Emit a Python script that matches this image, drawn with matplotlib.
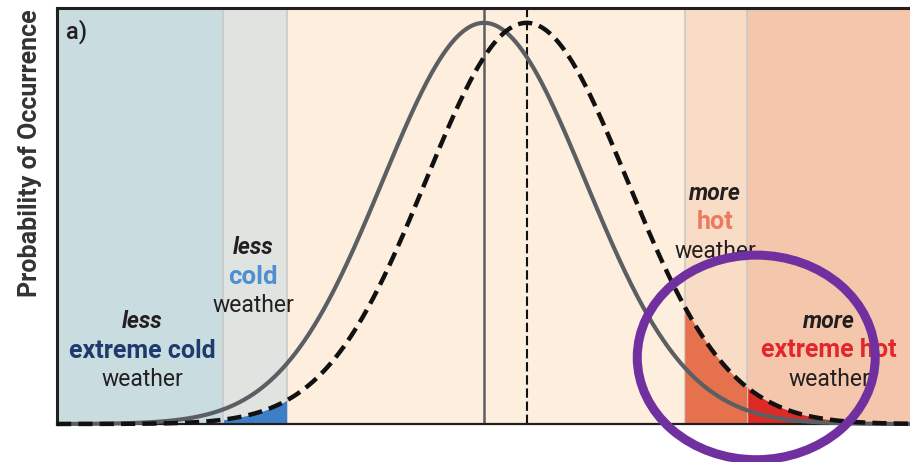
import numpy as np
import matplotlib
matplotlib.use("Agg")
import matplotlib.pyplot as plt
from matplotlib.patches import Ellipse

# ---- data (x in units of the present-climate spread) ----
present_mean = 0.0
future_mean = 0.41
present_sd = 0.975
future_sd = 0.97
region_edges = [-4.11, -2.51, -1.90, 1.93, 2.53, 4.10]
region_colors = ["#c9dde1", "#dfe4e1", "#fdeedd", "#f9dcc5", "#f4c7ad"]
tail_fills = [(-2.51, -1.90, "#3c7fc7"), (1.93, 2.53, "#e6714d"), (2.53, 4.10, "#dd2a24")]
panel_label = "a)"
ylabel = "Probability of Occurrence"
highlight_center = (2.62, 0.166)
highlight_size = (2.29, 0.51)

x = np.linspace(region_edges[0], region_edges[-1], 800)
present = np.exp(-0.5 * ((x - present_mean) / present_sd) ** 2)
future = np.exp(-0.5 * ((x - future_mean) / future_sd) ** 2)

plt.rcParams["font.family"] = ["Roboto", "DejaVu Sans"]

fig = plt.figure(figsize=(9.10, 4.62), dpi=100)
ax = fig.add_axes([57 / 910, 38 / 462, 853 / 910, 416 / 462])
ax.set_xlim(region_edges[0], region_edges[-1])
ax.set_ylim(0, 1.037)

# background bands
for (a, b), c in zip(zip(region_edges[:-1], region_edges[1:]), region_colors):
    ax.axvspan(a, b, color=c, lw=0, zorder=0)
for e in region_edges[1:-1]:
    ax.axvline(e, color="#c8c6c2", lw=1.1, zorder=0.5)

# tail fills under the shifted distribution
for a, b, c in tail_fills:
    m = (x >= a) & (x <= b)
    ax.fill_between(x[m], 0, future[m], color=c, lw=0, zorder=1)

# mean lines
ax.axvline(present_mean, color="#5b5f63", lw=1.8, zorder=2)
ax.axvline(future_mean, color="#111111", lw=1.5, ls=(0, (4.5, 1.8)), zorder=2)

# distributions
ax.plot(x, present, color="#5b5f63", lw=3.0, solid_capstyle="butt", zorder=4, clip_on=False)
ax.plot(x, future, color="#111111", lw=3.2, ls=(0, (3.2, 1.6)), dash_capstyle="butt",
        zorder=5, clip_on=False)

# spines
for s in ["left", "top"]:
    ax.spines[s].set_linewidth(2.2)
    ax.spines[s].set_color("#231f20")
ax.spines["bottom"].set_linewidth(1.6)
ax.spines["bottom"].set_color("#231f20")
ax.spines["right"].set_visible(False)
ax.set_xticks([])
ax.set_yticks([])

dark = "#231f20"


def px(xp, yp):
    return ((xp - 57) / 853, (424 - yp) / 416)


def block(xc, ys, lines):
    for yp, (txt, col, wt, st, fs) in zip(ys, lines):
        ax.text(*px(xc, yp), txt, transform=ax.transAxes, ha="center", va="center",
                fontsize=fs, color=col, fontweight=wt, fontstyle=st, zorder=6)


block(142, [322, 351, 380], [("less", dark, "bold", "italic", 16.5),
                             ("extreme cold", "#1f3b6e", "bold", "normal", 18),
                             ("weather", dark, "normal", "normal", 16.5)])
block(253, [247, 277, 306], [("less", dark, "bold", "italic", 16.5),
                             ("cold", "#4d8fd1", "bold", "normal", 18.5),
                             ("weather", dark, "normal", "normal", 16.5)])
block(715, [193, 222, 252], [("more", dark, "bold", "italic", 16.5),
                             ("hot", "#ea7b5d", "bold", "normal", 18),
                             ("weather", dark, "normal", "normal", 16.5)])
block(829, [321, 350, 379], [("more", dark, "bold", "italic", 16.5),
                             ("extreme hot", "#e3262b", "bold", "normal", 18),
                             ("weather", dark, "normal", "normal", 16.5)])

ax.text(*px(66, 32), panel_label, transform=ax.transAxes, ha="left", va="center",
        fontsize=17, color=dark, fontweight="medium", zorder=6)

fig.text(30 / 910, 1 - 153 / 462, ylabel, rotation=90, ha="center", va="center",
         fontsize=18, color="#333333", fontweight="bold")

ax.add_patch(Ellipse(highlight_center, highlight_size[0], highlight_size[1], fill=False,
                     edgecolor="#7030a0", lw=6.5, zorder=10, clip_on=False))

fig.savefig("out.png", dpi=100, facecolor="white")
